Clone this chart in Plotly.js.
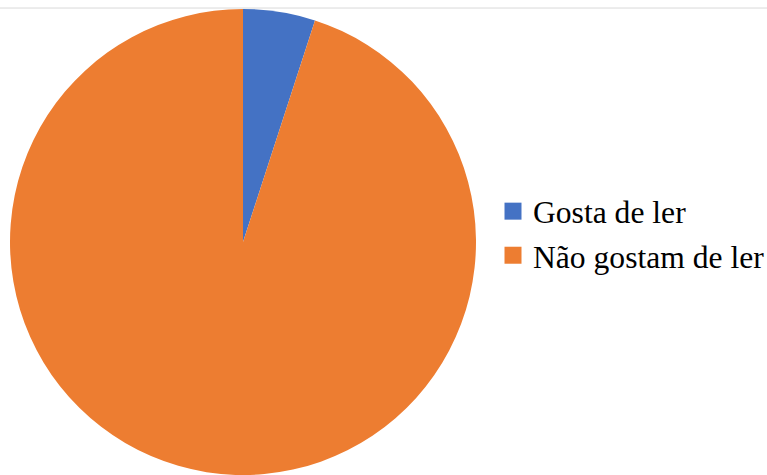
<!DOCTYPE html>
<html>
<head>
<meta charset="utf-8">
<script src="https://cdn.plot.ly/plotly-3.0.1.min.js"></script>
<style>html,body{margin:0;padding:0;background:#fff;}#chart{width:767px;height:475px;}</style>
</head>
<body>
<div id="chart"></div>
<script>
const labels = ["Gosta de ler", "Não gostam de ler"];
const values = [5, 95];
const colors = ["#4472C4", "#ED7D31"];

const data = [{
  type: "pie",
  labels: labels,
  values: values,
  marker: {colors: colors, line: {width: 0}},
  sort: false,
  direction: "clockwise",
  rotation: 0,
  textinfo: "none",
  hoverinfo: "label+value+percent",
  domain: {x: [0, 486/767], y: [0, 1]}
}];

const layout = {
  width: 767,
  height: 475,
  margin: {l: 0, r: 0, t: 9, b: 0},
  paper_bgcolor: "#ffffff",
  showlegend: true,
  legend: {
    x: 1, xanchor: "right",
    y: 0.518, yanchor: "middle",
    font: {family: "Liberation Serif, Times New Roman, serif", size: 31.6, color: "#000000"},
    bgcolor: "rgba(0,0,0,0)",
    borderwidth: 0
  },
  shapes: [{
    type: "line", xref: "paper", yref: "paper",
    x0: 0, x1: 1, y0: 1.0021, y1: 1.0021,
    line: {color: "#d9d9d9", width: 1},
    layer: "below"
  }]
};

Plotly.newPlot("chart", data, layout, {displayModeBar: false, staticPlot: true}).then(function (gd) {
  gd.querySelectorAll(".legend .legendpoints path").forEach(function (p) {
    p.setAttribute("d", "M8.5,8.5H-8.5V-8.5H8.5Z");
  });
  gd.querySelectorAll(".legend .legendtext").forEach(function (t) {
    const x = parseFloat(t.getAttribute("x")) || 0;
    t.setAttribute("x", x + 3);
  });
  gd.querySelectorAll(".legend .legendpoints").forEach(function (g) {
    g.setAttribute("transform", "translate(3,0)");
  });
});
</script>
</body>
</html>
